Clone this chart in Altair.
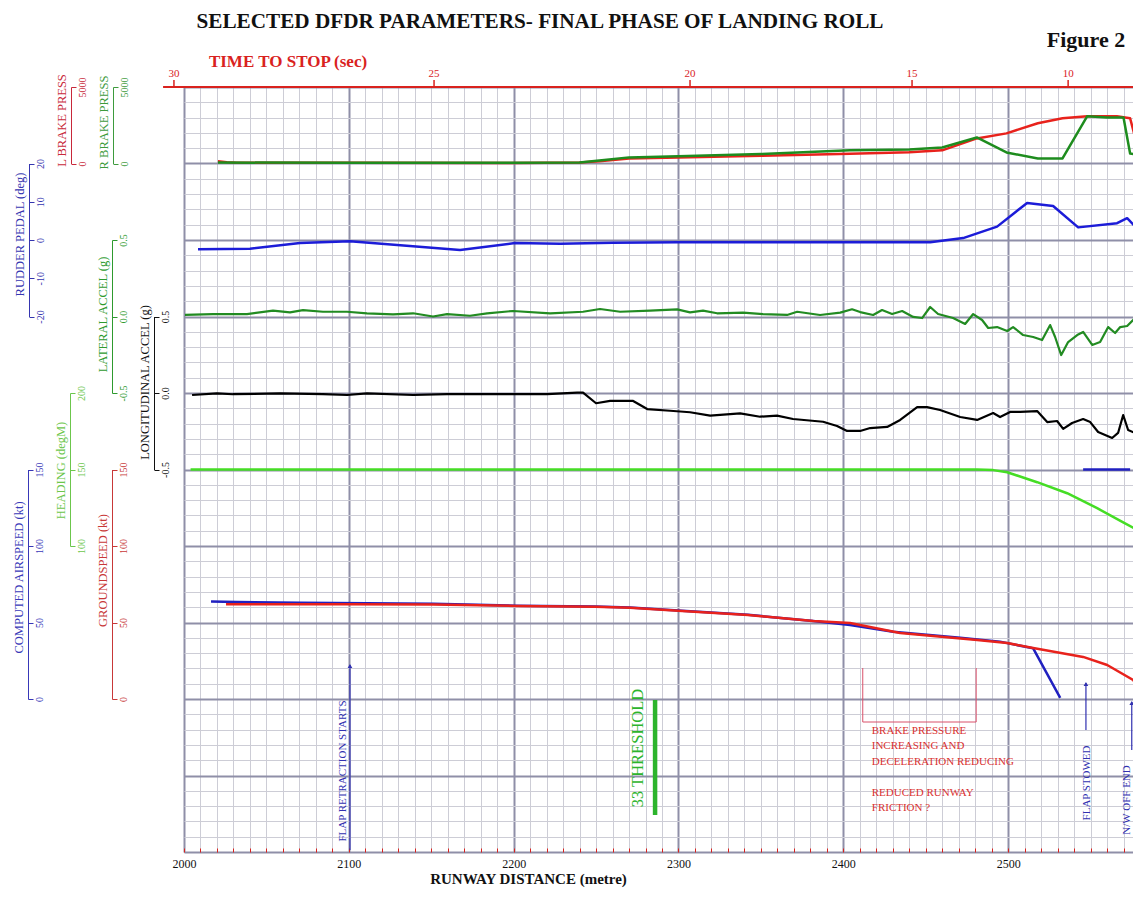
import altair as alt
import pandas as pd

# ------------------------------------------------------------------ data
TITLE = "SELECTED DFDR PARAMETERS- FINAL PHASE OF LANDING ROLL"
FIGURE = "Figure 2"
X_TITLE = "RUNWAY DISTANCE (metre)"
TTS_TITLE = "TIME TO STOP (sec)"

X_DOMAIN = [2000, 2580]
X_GRID = list(range(2000, 2581, 10))

# time-to-stop scale along the runway (top axis)
TTS_LABELS = ["30", "25", "20", "15", "10"]
TTS_DIST = [1993.9, 2151.7, 2307.0, 2441.7, 2536.4]
TTS_LINE = [1987.3, 2580.0]

# L / R brake pressure (psi)
LB_DIST = [2020.6, 2026, 2032, 2100, 2200, 2240, 2252, 2270, 2300, 2350, 2404, 2440,
           2460, 2481, 2499, 2518, 2533, 2548, 2566, 2574, 2580]
LB_PSI = [140, 90, 50, 50, 40, 60, 150, 330, 400, 500, 640, 740,
          860, 1640, 1970, 2630, 2960, 3090, 3090, 2960, 500]
RB_DIST = [2020.6, 2100, 2200, 2240, 2252, 2270, 2300, 2350, 2404, 2440, 2460, 2481,
           2499, 2518, 2533, 2548, 2560, 2570, 2574, 2580]
RB_PSI = [60, 50, 50, 60, 200, 400, 480, 620, 860, 920, 1050, 1700,
          720, 330, 330, 3090, 3000, 3000, 660, 530]

# rudder pedal (deg)
RP_DIST = [2008.5, 2040, 2070.4, 2100.7, 2167.5, 2200.8, 2228.2, 2260, 2300, 2400, 2452.7,
           2472.7, 2493.3, 2511.5, 2527.3, 2542.5, 2566.1, 2572.2, 2580]
RP_DEG = [-2.4, -2.3, -0.8, -0.3, -2.6, -0.8, -1.0, -0.7, -0.6, -0.6, -0.6,
          0.5, 3.5, 9.7, 8.9, 3.3, 4.4, 5.7, 2.2]

# lateral acceleration (g)
LAT_DIST = [2000.6, 2017.6, 2038.2, 2054.0, 2064.3, 2072.2, 2084.3, 2098.9, 2111.0, 2126.8,
            2139.0, 2151.1, 2159.6, 2173.5, 2183.9, 2199.6, 2222.1, 2242.1, 2252.4, 2264.6,
            2282.8, 2299.2, 2307.0, 2314.9, 2323.4, 2339.2, 2351.3, 2365.9, 2372.0, 2385.9,
            2398.1, 2405.3, 2410.2, 2418.1, 2423.5, 2429.6, 2435.7, 2442.4, 2447.8, 2452.7,
            2457.5, 2466.6, 2473.9, 2478.8, 2484.2, 2487.9, 2493.3, 2499.4, 2503.0, 2509.1,
            2515.2, 2520.6, 2525.5, 2528.5, 2532.2, 2536.4, 2541.9, 2545.5, 2551.0, 2555.8,
            2560.7, 2564.9, 2568.0, 2572.2, 2575.8, 2578.3, 2580.0]
LAT_G = [0.010, 0.016, 0.016, 0.038, 0.027, 0.042, 0.031, 0.031, 0.021, 0.014,
         0.021, 0.000, 0.016, 0.005, 0.021, 0.036, 0.021, 0.031, 0.049, 0.031,
         0.038, 0.047, 0.027, 0.038, 0.021, 0.025, 0.016, 0.010, 0.031, 0.010,
         0.025, 0.047, 0.029, 0.010, 0.042, 0.016, 0.036, -0.003, -0.010, 0.062,
         0.016, -0.010, -0.049, 0.016, -0.023, -0.075, -0.069, -0.095, -0.069, -0.121,
         -0.134, -0.154, -0.056, -0.134, -0.252, -0.167, -0.121, -0.101, -0.186, -0.167,
         -0.069, -0.108, -0.069, -0.062, -0.023, 0.003, 0.042]

# longitudinal acceleration (g)
LON_DIST = [2004.9, 2020.0, 2029.7, 2058.3, 2084.3, 2098.9, 2111.0, 2139.0, 2159.6, 2179.6,
            2203.9, 2220.3, 2238.5, 2242.1, 2250.0, 2258.5, 2272.5, 2281.0, 2294.9, 2307.0,
            2319.2, 2337.4, 2349.5, 2359.8, 2369.5, 2387.7, 2396.2, 2402.3, 2410.2, 2416.3,
            2426.6, 2434.5, 2444.8, 2450.8, 2458.7, 2470.9, 2481.2, 2490.9, 2495.1, 2501.2,
            2507.3, 2517.6, 2523.7, 2529.7, 2533.4, 2538.8, 2545.5, 2549.8, 2554.6, 2563.1,
            2566.7, 2569.8, 2572.8, 2577.0, 2578.9, 2580.0]
LON_G = [-0.013, -0.002, -0.008, -0.002, -0.007, -0.013, -0.002, -0.013, -0.007, -0.008,
         -0.007, -0.007, 0.002, 0.002, -0.067, -0.052, -0.052, -0.105, -0.116, -0.126,
         -0.148, -0.133, -0.155, -0.148, -0.170, -0.188, -0.216, -0.248, -0.248, -0.229,
         -0.222, -0.176, -0.092, -0.092, -0.111, -0.157, -0.176, -0.131, -0.157, -0.124,
         -0.124, -0.118, -0.190, -0.183, -0.235, -0.196, -0.170, -0.190, -0.255, -0.294,
         -0.261, -0.144, -0.242, -0.261, -0.046, -0.033]

# heading (deg M)
HD_DIST = [2004, 2100, 2200, 2300, 2400, 2481, 2491, 2499.4, 2517.6, 2535.8, 2554, 2569.8, 2580]
HD_DEG = [150, 150, 150, 150, 150, 150, 149.6, 148.2, 141.7, 134.5, 124.7, 115.5, 109.5]

# computed airspeed (kt); second short segment is the flagged value near the end
AS_DIST = [2016.4, 2032.2, 2070.4, 2151.1, 2201.5, 2249.4, 2270.6, 2302.2, 2342.2, 2381.7,
           2404.1, 2430.2, 2470.9, 2495.1, 2515.2, 2531.6]
AS_KT = [63.8, 63.4, 62.9, 62.3, 61.0, 60.5, 59.8, 57.6, 55.0, 51.0,
         48.4, 44.0, 40.1, 37.5, 33.1, 0.8]
AS2_DIST = [2545.5, 2574.0]
AS2_KT = [150, 150]

# groundspeed (kt)
GS_DIST = [2025.5, 2098.3, 2151.1, 2201.5, 2249.4, 2270.6, 2302.2, 2342.2, 2381.7, 2404.1,
           2434.5, 2481.2, 2499.4, 2515.2, 2545.5, 2560.1, 2575.8, 2580]
GS_KT = [62.0, 62.0, 61.8, 60.8, 60.3, 59.7, 57.5, 54.9, 51.0, 49.7,
         43.1, 38.6, 36.6, 33.3, 27.5, 22.2, 12.4, 6.0]

# events along the runway
EVENT_LABELS = ["FLAP RETRACTION STARTS", "FLAP STOWED", "N/W OFF END"]
EVENT_DIST = [2100.7, 2547.2, 2575.0]
THRESHOLD_LABEL = "33 THRESHOLD"
THRESHOLD_DIST = [2285.8]
BRACKET_DIST = [2411.8, 2480.6]
BRACKET_TEXT_1 = "BRAKE PRESSURE\nINCREASING AND\nDECELERATION REDUCING"
BRACKET_TEXT_2 = "REDUCED RUNWAY\nFRICTION ?"

# ------------------------------------------------------------------ style
SERIF = "Liberation Serif"
W_FULL = 956          # pixel length of the distance scale
W = 949               # visible plot width (page is 1141 px wide)
H = 765
U = H / 10.0
MAJ = "#8f8fa8"
MIN = "#cdcdd6"
RED = "#d9221e"

XSCALE = dict(domain=X_DOMAIN, range=[0, W_FULL], nice=False, zero=False)


def xq(field, axis=None):
    return alt.X(f"{field}:Q", scale=alt.Scale(**XSCALE), axis=axis)


def param_axis(title, values, color, line_x, title_y, fmt):
    return alt.Axis(
        orient="right", offset=line_x - W, values=values, format=fmt,
        labelExpr="replace(datum.label, '\u2212', '-')",
        title=title, titleAngle=270, titleX=-10, titleY=title_y, titleAlign="center",
        titleBaseline="middle", titleFont=SERIF, titleFontSize=12.5, titleFontWeight="normal",
        titleColor=color,
        labelAngle=270, labelAlign="center", labelBaseline="top", labelFont=SERIF,
        labelFontSize=10, labelColor=color, labelPadding=1, labelFlush=False, labelOverlap=False,
        tickSize=5, tickColor=color, tickWidth=1, domainColor=color, domainWidth=1, grid=False,
    )


def series(dist, vals, color, width, domain, rng, axis):
    df = pd.DataFrame({"d": dist, "v": vals})
    return alt.Chart(df).mark_line(color=color, strokeWidth=width, strokeJoin="round").encode(
        x=xq("d"),
        y=alt.Y("v:Q", scale=alt.Scale(domain=domain, range=rng, nice=False, zero=False), axis=axis),
    )


one = pd.DataFrame({"k": [0]})

# grid layer
grid = alt.Chart(pd.DataFrame({"d": [2000.0], "g": [0.0]})).mark_point(opacity=0).encode(
    x=xq("d", alt.Axis(
        orient="bottom", values=X_GRID, grid=True,
        gridColor={"condition": {"test": "datum.value % 100 === 0", "value": MAJ}, "value": MIN},
        gridWidth={"condition": {"test": "datum.value % 100 === 0", "value": 2}, "value": 1},
        gridOpacity=1, labels=False, ticks=False, domain=False, title=None)),
    y=alt.Y("g:Q", scale=alt.Scale(domain=[0, 50], nice=False, zero=False), axis=alt.Axis(
        orient="left", values=list(range(51)), grid=True,
        gridColor={"condition": {"test": "datum.value % 5 === 0", "value": MAJ}, "value": MIN},
        gridWidth={"condition": {"test": "datum.value % 5 === 0", "value": 2}, "value": 1},
        gridOpacity=1, labels=False, ticks=False, domain=False, title=None)),
)

# bottom distance axis (labels + red ticks)
xlab = alt.Chart(pd.DataFrame({"d": [2000.0]})).mark_point(opacity=0).encode(
    x=xq("d", alt.Axis(
        orient="bottom", values=X_GRID, offset=-4, grid=False, domain=False,
        labelExpr="datum.value % 100 === 0 ? format(datum.value, 'd') : ''",
        labelFont=SERIF, labelFontSize=12, labelColor="#111111", labelPadding=6,
        labelFlush=False, labelOverlap=False,
        tickSize=4, tickColor=RED, tickWidth=1,
        title=X_TITLE, titleFont=SERIF, titleFontSize=15, titleFontWeight="bold",
        titleColor="#111111", titleX=344, titleY=30, titleAlign="center", titleBaseline="middle")),
)

lb = series(LB_DIST, LB_PSI, "#e8221c", 2.5, [0, 5000], [U, 0],
            param_axis("L BRAKE PRESS", [0, 5000], "#c8283a", -113, 33, "d"))
rb = series(RB_DIST, RB_PSI, "#1e8c1e", 2.5, [0, 5000], [U, 0],
            param_axis("R BRAKE PRESS", [0, 5000], "#3d9b3d", -71, 35, "d"))
rp = series(RP_DIST, RP_DEG, "#1c1cd8", 2.5, [-20, 20], [3 * U, U],
            param_axis("RUDDER PEDAL (deg)", [-20, -10, 0, 10, 20], "#3535b0", -155, 147, "d"))
lat = series(LAT_DIST, LAT_G, "#228b22", 2.2, [-0.5, 0.5], [4 * U, 2 * U],
             param_axis("LATERAL ACCEL (g)", [-0.5, 0.0, 0.5], "#2e9a2e", -72, 227, ".1f"))
lon = series(LON_DIST, LON_G, "#000000", 2.2, [-0.5, 0.5], [5 * U, 3 * U],
             param_axis("LONGITUDINAL ACCEL (g)", [-0.5, 0.0, 0.5], "#111111", -30, 295, ".1f"))
hd = series(HD_DIST, HD_DEG, "#45dd25", 2.5, [100, 200], [6 * U, 4 * U],
            param_axis("HEADING (degM)", [100, 150, 200], "#6cc64c", -114, 383, "d"))

as_df = pd.DataFrame({
    "d": AS_DIST + AS2_DIST,
    "v": AS_KT + AS2_KT,
    "seg": ["a"] * len(AS_DIST) + ["b"] * len(AS2_DIST),
})
asp = alt.Chart(as_df).mark_line(color="#2020c0", strokeWidth=2.5).encode(
    x=xq("d"),
    y=alt.Y("v:Q", scale=alt.Scale(domain=[0, 150], range=[8 * U, 5 * U], nice=False, zero=False),
            axis=param_axis("COMPUTED AIRSPEED (kt)", [0, 50, 100, 150], "#3838b8", -156, 490, "d")),
    detail="seg:N",
)
gs = series(GS_DIST, GS_KT, "#e8221c", 2.5, [0, 150], [8 * U, 5 * U],
            param_axis("GROUNDSPEED (kt)", [0, 50, 100, 150], "#c83838", -72, 483, "d"))

# time-to-stop axis along the top
tts_df = pd.DataFrame({"d": TTS_DIST, "t": TTS_LABELS})
tts_line = alt.Chart(pd.DataFrame({"d0": [TTS_LINE[0]], "d1": [TTS_LINE[1]]})).mark_rule(
    color=RED, strokeWidth=2).encode(x=xq("d0"), x2="d1:Q", y=alt.value(0))
tts_ticks = alt.Chart(tts_df).mark_rule(color=RED, strokeWidth=1.5).encode(
    x=xq("d"), y=alt.value(-7), y2=alt.value(0))
tts_text = alt.Chart(tts_df).mark_text(color=RED, font=SERIF, fontSize=11, baseline="alphabetic").encode(
    x=xq("d"), y=alt.value(-10), text="t:N")
tts_title = alt.Chart(one).mark_text(color=RED, font=SERIF, fontSize=17, fontWeight="bold").encode(
    x=alt.value(104), y=alt.value(-25), text=alt.value(TTS_TITLE))

title = alt.Chart(one).mark_text(font=SERIF, fontSize=21.2, fontWeight="bold", color="#111111").encode(
    x=alt.value(356), y=alt.value(-65), text=alt.value(TITLE))
fig = alt.Chart(one).mark_text(font=SERIF, fontSize=22, fontWeight="bold", color="#111111").encode(
    x=alt.value(902), y=alt.value(-47), text=alt.value(FIGURE))

# event arrows and labels (pixel offsets from plot top)
EVENT_STYLE = {
    "FLAP RETRACTION STARTS": (575, 763, 684, -7),
    "FLAP STOWED": (593, 643, 696, 1),
    "N/W OFF END": (612, 663, 713, -5),
}
BLUE_T = "#3030b0"
event_layers = []
for lab, dist in zip(EVENT_LABELS, EVENT_DIST):
    top, bot, ty, off = EVENT_STYLE[lab]
    edf = pd.DataFrame({"d": [dist], "label": [lab]})
    event_layers.append(alt.Chart(edf).mark_rule(color=BLUE_T, strokeWidth=1.2).encode(
        x=xq("d"), y=alt.value(top + 3), y2=alt.value(bot)))
    event_layers.append(alt.Chart(edf).mark_point(
        shape="triangle-up", filled=True, color=BLUE_T, size=22, opacity=1).encode(
        x=xq("d"), y=alt.value(top + 4)))
    event_layers.append(alt.Chart(edf).mark_text(
        color=BLUE_T, font=SERIF, fontSize=11, angle=270, baseline="middle", dy=off).encode(
        x=xq("d"), y=alt.value(ty), text="label:N"))

GREEN_T = "#2cb42c"
thr_df = pd.DataFrame({"d": THRESHOLD_DIST, "label": [THRESHOLD_LABEL]})
thr_bar = alt.Chart(thr_df).mark_rule(color=GREEN_T, strokeWidth=4.5).encode(
    x=xq("d"), y=alt.value(613), y2=alt.value(728))
thr_text = alt.Chart(thr_df).mark_text(
    color=GREEN_T, font=SERIF, fontSize=16.5, angle=270, baseline="middle", dy=-17).encode(
    x=xq("d"), y=alt.value(661), text="label:N")

PINK = "#d9506a"
br_df = pd.DataFrame({"d": BRACKET_DIST})
br_v = alt.Chart(br_df).mark_rule(color=PINK, strokeWidth=1).encode(
    x=xq("d"), y=alt.value(581), y2=alt.value(635))
br_h = alt.Chart(pd.DataFrame({"d0": [BRACKET_DIST[0]], "d1": [BRACKET_DIST[1]]})).mark_rule(
    color=PINK, strokeWidth=1).encode(x=xq("d0"), x2="d1:Q", y=alt.value(635))
br_df_t = pd.DataFrame({"d": [BRACKET_DIST[0], BRACKET_DIST[0]], "t": [BRACKET_TEXT_1, BRACKET_TEXT_2]})
br_text1 = alt.Chart(br_df_t.iloc[[0]]).mark_text(
    color="#d93030", font=SERIF, fontSize=11, align="left", baseline="top", dx=9,
    lineBreak="\n", lineHeight=15.3).encode(x=xq("d"), y=alt.value(638), text="t:N")
br_text2 = alt.Chart(br_df_t.iloc[[1]]).mark_text(
    color="#d93030", font=SERIF, fontSize=11, align="left", baseline="top", dx=9,
    lineBreak="\n", lineHeight=14.5).encode(x=xq("d"), y=alt.value(700), text="t:N")

chart = alt.layer(
    grid, xlab, lb, rb, rp, lat, lon, hd, asp, gs,
    tts_line, tts_ticks, tts_text, tts_title, title, fig,
    *event_layers, thr_bar, thr_text, br_v, br_h, br_text1, br_text2,
).resolve_scale(y="independent").resolve_axis(y="independent", x="independent").properties(
    width=W, height=H,
    padding={"left": 176, "top": 79, "right": 0, "bottom": 36},
    autosize=alt.AutoSizeParams(type="none"),
    background="white",
).configure_view(stroke=None)

chart.save("out.html", embed_options={"renderer": "svg", "actions": False})
